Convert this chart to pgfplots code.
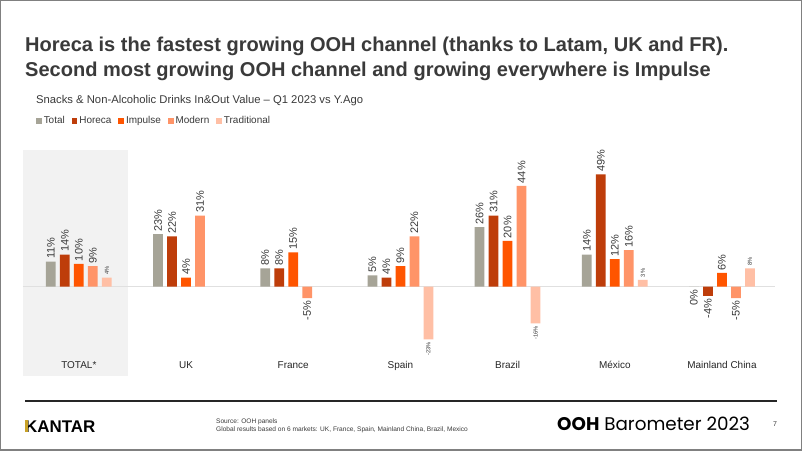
\documentclass[border=0pt]{standalone}
\usepackage{pgfplots}
\pgfplotsset{compat=1.18}
\usepackage{fontspec}
\setmainfont{Liberation Sans}
\newfontfamily\poppins{Poppins}

\definecolor{cTotal}{HTML}{A6A497}
\definecolor{cHoreca}{HTML}{BE3D0A}
\definecolor{cImpulse}{HTML}{FF5500}
\definecolor{cModern}{HTML}{FF9468}
\definecolor{cTrad}{HTML}{FFBFA5}
\definecolor{txt}{HTML}{3A3A3A}
\definecolor{gold}{HTML}{C9A227}

\begin{document}
\begin{tikzpicture}[x=1bp,y=1bp]
% slide background and frame
\fill[white] (0,0) rectangle (802,451);
\draw[black!50, line width=1.5bp] (0.75,0.75) rectangle (801.25,450.25);

% titles
\node[anchor=base west, inner sep=0, text=txt, font=\bfseries\fontsize{20.1}{24}\selectfont] at (25,399)
  {Horeca is the fastest growing OOH channel (thanks to Latam, UK and FR).};
\node[anchor=base west, inner sep=0, text=txt, font=\bfseries\fontsize{20.1}{24}\selectfont] at (25,374)
  {Second most growing OOH channel and growing everywhere is Impulse};
\node[anchor=base west, inner sep=0, text=txt, font=\fontsize{11.3}{13}\selectfont] at (36,347)
  {Snacks \& Non-Alcoholic Drinks In\&Out Value -- Q1 2023 vs Y.Ago};

% shaded TOTAL column
\fill[black!5] (23,301) rectangle (128,75);

\begin{axis}[
    at={(25.25bp,93.3bp)}, anchor=south west,
    scale only axis,
    width=750.3bp, height=208.4bp,
    xmin=-0.5, xmax=6.5,
    ymin=-31, ymax=60,
    clip=false,
    axis line style={draw=none},
    major tick length=0pt,
    ytick=\empty,
    xtick={0,...,6},
    xticklabels={TOTAL*,UK,France,Spain,Brazil,México,Mainland China},
    xticklabel style={font=\fontsize{10}{12}\selectfont, text=black!85},
    ybar=4.3bp,
    bar width=9.7bp,
    visualization depends on={y \as \rawy},
    nodes near coords={\pgfmathprintnumber{\pgfplotspointmeta}\%},
    /pgf/number format/assume math mode=true,
    every node near coord/.append style={rotate=90, inner sep=2.6bp, text=txt,
        font=\fontsize{11}{13}\selectfont,
        anchor={\ifdim\rawy pt>0pt west\else east\fi}},
    legend columns=-1,
    legend style={at={(0.0103,1.136)}, anchor=west, draw=none, fill=none,
        font=\fontsize{10}{12}\selectfont, text=txt,
        /tikz/every even column/.append style={column sep=5bp}},
    legend image code/.code={\fill[#1,draw=none] (0bp,-2.8bp) rectangle (5.6bp,2.8bp);},
]
\draw[black!12, line width=1bp] (axis cs:-0.521,0) -- (axis cs:6.495,0);

\addplot[fill=cTotal, draw=none] coordinates {
    (0,11) (1,23) (2,8) (3,5) (4,26) (5,14) (6,0)};
\addplot[fill=cHoreca, draw=none] coordinates {
    (0,14) (1,22) (2,8) (3,4) (4,31) (5,49) (6,-4)};
\addplot[fill=cImpulse, draw=none] coordinates {
    (0,10) (1,4) (2,15) (3,9) (4,20) (5,12) (6,6)};
\addplot[fill=cModern, draw=none] coordinates {
    (0,9) (1,31) (2,-5) (3,22) (4,44) (5,16) (6,-5)};
\addplot[fill=cTrad, draw=none,
    every node near coord/.append style={font=\fontsize{5.8}{7}\selectfont}] coordinates {
    (0,4) (3,-23) (4,-16) (5,3) (6,8)};
\legend{Total,Horeca,Impulse,Modern,Traditional}
\end{axis}

% footer
\draw[black!85, line width=2.5bp] (25,50) -- (777,50);
\node[anchor=west, inner sep=0, font=\bfseries\fontsize{17}{20}\selectfont] at (25,24.5) {KANTAR};
\fill[gold] (25.3,18.5) rectangle (28,30.5);
\node[anchor=west, inner sep=0, align=left, text=txt, font=\fontsize{6.6}{8.6}\selectfont] at (216,25)
  {Source: OOH panels\\Global results based on 6 markets: UK, France, Spain, Mainland China, Brazil, Mexico};
\node[anchor=west, inner sep=0, font=\poppins\fontsize{18.4}{22}\selectfont] at (557,27)
  {{\bfseries OOH} Barometer 2023};
\node[inner sep=0, text=txt, font=\fontsize{7}{8}\selectfont] at (775,27) {7};
\end{tikzpicture}
\end{document}
